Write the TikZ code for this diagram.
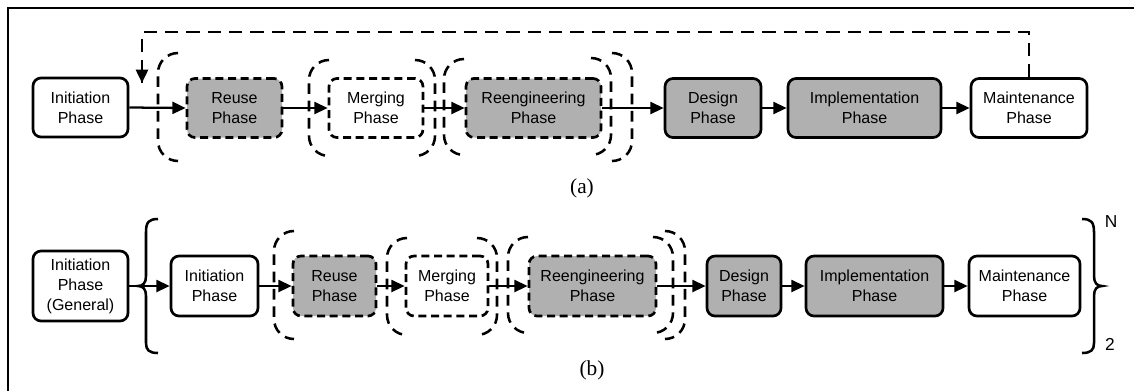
\documentclass[tikz,border=0pt]{standalone}
\usepackage{fontspec}
\setmainfont{Liberation Serif}
\newfontfamily\arialf{Liberation Sans}
\usetikzlibrary{arrows.meta}
\definecolor{phasegray}{RGB}{176,176,176}
\newcommand\lpar[3]{\draw[paren] (#1+20,#2) -- (#1,#2) -- (#1,#3) -- (#1+20,#3);}
\newcommand\rpar[3]{\draw[paren] (#1-20,#2) -- (#1,#2) -- (#1,#3) -- (#1-20,#3);}
\begin{document}
\begin{tikzpicture}[x=0.75pt,y=-0.75pt,
  phase/.style={draw, line width=2pt, rounded corners=6pt, align=center, inner sep=0pt,
    font=\arialf\fontsize{12}{15}\selectfont, minimum height=59*0.75pt},
  shaded/.style={fill=phasegray},
  dbox/.style={dash pattern=on 6pt off 3.5pt},
  paren/.style={line width=1.9pt, dash pattern=on 8pt off 5pt, rounded corners=15pt},
  flow/.style={line width=1.7pt, -{Triangle[length=10pt,width=9pt]}},
  fb/.style={line width=1.9pt, dash pattern=on 10pt off 6pt},
  brc/.style={line width=1.9pt},
  captext/.style={font=\fontsize{16}{19}\selectfont, inner sep=0pt},
  lbl/.style={font=\arialf\fontsize{13}{15}\selectfont, inner sep=0pt},
]
\useasboundingbox (0,0) rectangle (1134,390);
% frame
\draw[line width=2.2pt] (8,391) -- (8,8) -- (1135,8);

% ---------- (a) ----------
\node[phase, minimum width=95*0.75pt] (initA) at (80.5,107.5) {Initiation\\Phase};
\node[phase, shaded, dbox, minimum width=95*0.75pt] (reuseA) at (234.5,108) {Reuse\\Phase};
\node[phase, dbox, minimum width=94*0.75pt] (mergeA) at (376,108) {Merging\\Phase};
\node[phase, shaded, dbox, minimum width=135*0.75pt] (reengA) at (533.5,108) {Reengineering\\Phase};
\node[phase, shaded, minimum width=96*0.75pt] (designA) at (713,108) {Design\\Phase};
\node[phase, shaded, minimum width=153*0.75pt] (implA) at (864.5,108) {Implementation\\Phase};
\node[phase, minimum width=116*0.75pt] (maintA) at (1029,108) {Maintenance\\Phase};

\lpar{158}{53}{161}
\rpar{632}{53}{161}
\lpar{309}{60}{156}
\rpar{435}{60}{156}
\lpar{444}{59}{155}
\rpar{611}{58}{155}

\draw[flow] (initA.east) -- (reuseA.west);
\draw[flow] (reuseA.east) -- (mergeA.west);
\draw[flow] (mergeA.east) -- (reengA.west);
\draw[flow] (reengA.east) -- (designA.west);
\draw[flow] (designA.east) -- (implA.west);
\draw[flow] (implA.east) -- (maintA.west);

\coordinate (fbR) at (maintA.north |- 0,32);
\coordinate (fbL) at (142,32);
\coordinate (fbE) at (142,83);
\draw[fb] (maintA.north) -- (fbR) -- (fbL) -- (fbE);
\draw[line width=1.9pt, -{Triangle[length=10pt,width=9pt]}] (142,72) -- (fbE);

\node[captext] (capA) at (582,188) {(a)};

% ---------- (b) ----------
\node[phase, minimum width=95*0.75pt, minimum height=70*0.75pt] (initG) at (80.5,286) {Initiation\\Phase\\(General)};
\node[phase, minimum width=87*0.75pt, minimum height=60*0.75pt] (initB) at (214.5,286) {Initiation\\Phase};
\node[phase, shaded, dbox, minimum width=83*0.75pt, minimum height=60*0.75pt] (reuseB) at (334.5,286) {Reuse\\Phase};
\node[phase, dbox, minimum width=82*0.75pt, minimum height=60*0.75pt] (mergeB) at (447,286) {Merging\\Phase};
\node[phase, shaded, dbox, minimum width=127*0.75pt, minimum height=60*0.75pt] (reengB) at (592.5,286) {Reengineering\\Phase};
\node[phase, shaded, minimum width=74*0.75pt, minimum height=60*0.75pt] (designB) at (744,286) {Design\\Phase};
\node[phase, shaded, minimum width=137*0.75pt, minimum height=60*0.75pt] (implB) at (874.5,286) {Implementation\\Phase};
\node[phase, minimum width=111*0.75pt, minimum height=60*0.75pt] (maintB) at (1024.5,286) {Maintenance\\Phase};

\lpar{274}{231}{339}
\rpar{685}{231}{339}
\lpar{387}{238}{335}
\rpar{497}{238}{335}
\lpar{508}{237}{333}
\rpar{673}{237}{333}

% braces
\draw[brc] (158,219) .. controls (149,219) and (146,222) .. (146,232) -- (146,276)
  .. controls (146,283) and (143,286) .. (138,286)
  .. controls (143,286) and (146,289) .. (146,296) -- (146,343)
  .. controls (146,350) and (149,353) .. (158,353);
\draw[brc] (1082,219) .. controls (1091,219) and (1094,222) .. (1094,232) -- (1094,276)
  .. controls (1094,283) and (1097,286) .. (1102,286)
  .. controls (1097,286) and (1094,289) .. (1094,296) -- (1094,343)
  .. controls (1094,350) and (1091,353) .. (1082,353);
\node[lbl] (nN) at (1111,222) {N};
\node[lbl] (n2) at (1110,344) {2};

\draw[flow] (initG.east) -- (initB.west);
\draw[flow] (initB.east) -- (reuseB.west);
\draw[flow] (reuseB.east) -- (mergeB.west);
\draw[flow] (mergeB.east) -- (reengB.west);
\draw[flow] (reengB.east) -- (designB.west);
\draw[flow] (designB.east) -- (implB.west);
\draw[flow] (implB.east) -- (maintB.west);

\node[captext] (capB) at (592,370) {(b)};
\end{tikzpicture}
\end{document}
